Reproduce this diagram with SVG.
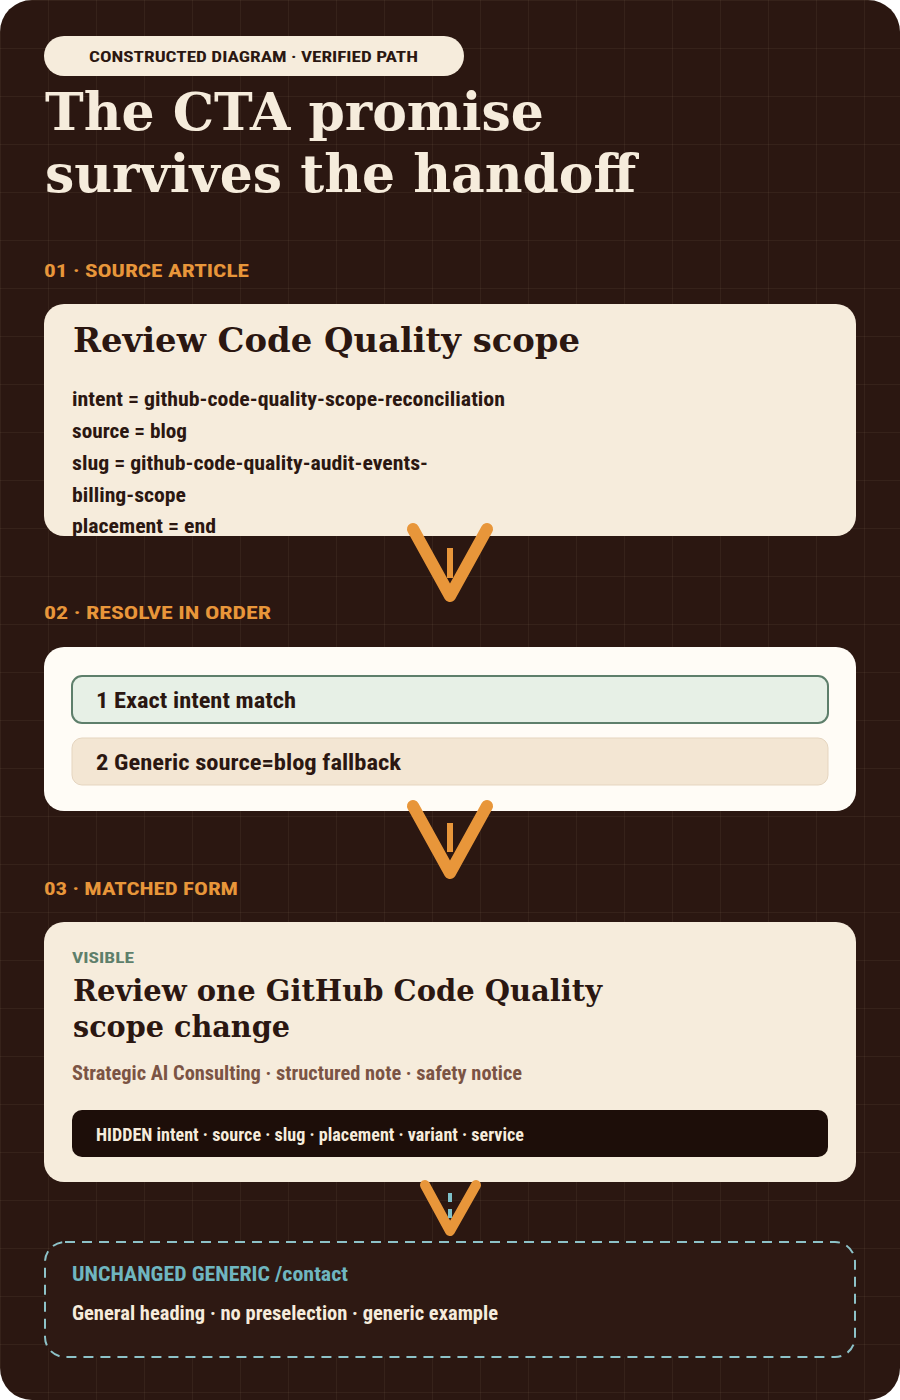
<svg xmlns="http://www.w3.org/2000/svg" width="900" height="1400" viewBox="0 0 900 1400">
  <defs>
    <style>
      .serif { font-family: "DejaVu Serif", "Liberation Serif", serif; font-weight: bold; }
      .cond { font-family: "Liberation Sans Narrow", "Roboto Condensed", "Liberation Sans", "Noto Sans", sans-serif; font-weight: bold; }
      .dark { fill: #2b1711; }
      .cream { fill: #f6ecdc; }
      .orange { fill: #e8963a; }
      .section { font-size: 18px; }
      .line { font-size: 20px; }
      .arrow { fill: none; stroke: #e8963a; stroke-linecap: round; stroke-linejoin: round; }
    </style>
    <pattern id="grid" x="0" y="0" width="48" height="48" patternUnits="userSpaceOnUse">
      <rect x="0" y="0" width="48" height="1" fill="#ffe6c8" fill-opacity="0.05"/>
      <rect x="0" y="0" width="1" height="48" fill="#ffe6c8" fill-opacity="0.05"/>
    </pattern>
    <clipPath id="clip1">
      <rect x="44" y="304" width="812" height="232" rx="20"/>
    </clipPath>
  </defs>

  <rect x="0" y="0" width="900" height="1400" fill="#ffffff"/>
  <rect x="0" y="0" width="900" height="1400" rx="32" fill="#2b1711"/>
  <rect x="0" y="0" width="900" height="1400" rx="32" fill="url(#grid)"/>

  <g id="header">
    <rect x="44" y="36" width="420" height="40" rx="20" class="cream"/>
    <text x="89" y="62" class="cond dark" font-size="15" textLength="329" lengthAdjust="spacingAndGlyphs">CONSTRUCTED DIAGRAM · VERIFIED PATH</text>
    <text x="45" y="130" class="serif cream" font-size="52">The CTA promise</text>
    <text x="45" y="192" class="serif cream" font-size="52">survives the handoff</text>
  </g>

  <g id="section-labels">
    <text x="44" y="277" class="cond orange section" textLength="205" lengthAdjust="spacingAndGlyphs">01 · SOURCE ARTICLE</text>
    <text x="44" y="619" class="cond orange section" textLength="227" lengthAdjust="spacingAndGlyphs">02 · RESOLVE IN ORDER</text>
    <text x="44" y="895" class="cond orange section" textLength="194" lengthAdjust="spacingAndGlyphs">03 · MATCHED FORM</text>
  </g>

  <g id="source-article">
    <rect x="44" y="304" width="812" height="232" rx="20" class="cream"/>
    <g clip-path="url(#clip1)">
      <text x="73" y="352" class="serif dark" font-size="33.5" textLength="507" lengthAdjust="spacingAndGlyphs">Review Code Quality scope</text>
      <text x="72" y="406" class="cond dark line" textLength="433" lengthAdjust="spacingAndGlyphs">intent = github-code-quality-scope-reconciliation</text>
      <text x="72" y="438" class="cond dark line" textLength="115" lengthAdjust="spacingAndGlyphs">source = blog</text>
      <text x="72" y="470" class="cond dark line" textLength="356" lengthAdjust="spacingAndGlyphs">slug = github-code-quality-audit-events-</text>
      <text x="72" y="502" class="cond dark line" textLength="114" lengthAdjust="spacingAndGlyphs">billing-scope</text>
      <text x="72" y="533" class="cond dark line" textLength="144" lengthAdjust="spacingAndGlyphs">placement = end</text>
    </g>
  </g>

  <g id="resolve-order">
    <rect x="44" y="647" width="812" height="164" rx="20" fill="#fffcf6"/>
    <g id="step-1">
      <rect x="72" y="676" width="756" height="47" rx="10" fill="#e7f0e6" stroke="#5e7f6b" stroke-width="2"/>
      <text x="96" y="708" class="cond dark" font-size="22" textLength="200" lengthAdjust="spacingAndGlyphs">1 Exact intent match</text>
    </g>
    <g id="step-2">
      <rect x="72" y="738" width="756" height="47" rx="10" fill="#f3e6d3" stroke="#e5d5bf" stroke-width="1"/>
      <text x="96" y="770" class="cond dark" font-size="22" textLength="305" lengthAdjust="spacingAndGlyphs">2 Generic source=blog fallback</text>
    </g>
  </g>

  <g id="matched-form">
    <rect x="44" y="922" width="812" height="260" rx="20" class="cream"/>
    <text x="72" y="963" class="cond" font-size="15" fill="#5e7f6b" textLength="62" lengthAdjust="spacingAndGlyphs">VISIBLE</text>
    <text x="73" y="1001" class="serif dark" font-size="29" textLength="529" lengthAdjust="spacingAndGlyphs">Review one GitHub Code Quality</text>
    <text x="73" y="1037" class="serif dark" font-size="29" textLength="217" lengthAdjust="spacingAndGlyphs">scope change</text>
    <text x="72" y="1080" class="cond line" fill="#7b5444" textLength="450" lengthAdjust="spacingAndGlyphs">Strategic AI Consulting · structured note · safety notice</text>
    <g id="hidden-fields">
      <rect x="72" y="1110" width="756" height="47" rx="10" fill="#1d0e09"/>
      <text x="96" y="1141" class="cond cream" font-size="18" textLength="428" lengthAdjust="spacingAndGlyphs">HIDDEN intent · source · slug · placement · variant · service</text>
    </g>
  </g>

  <g id="generic-contact">
    <rect x="45" y="1242" width="810" height="115" rx="20" fill="#2e1913" stroke="#8dc2c8" stroke-width="2" stroke-dasharray="10 7"/>
    <text x="72" y="1281" class="cond" font-size="21" fill="#6fb6c0" textLength="276" lengthAdjust="spacingAndGlyphs">UNCHANGED GENERIC /contact</text>
    <text x="72" y="1320" class="cond cream" font-size="20" textLength="426" lengthAdjust="spacingAndGlyphs">General heading · no preselection · generic example</text>
  </g>

  <g id="connectors">
    <g id="arrow-1">
      <path d="M413,529 L450,596 L487,529" class="arrow" stroke-width="12"/>
      <line x1="450" y1="548" x2="450" y2="578" stroke="#e8963a" stroke-width="6"/>
    </g>
    <g id="arrow-2">
      <path d="M413,806 L450,873 L487,806" class="arrow" stroke-width="12"/>
      <line x1="450" y1="823" x2="450" y2="852" stroke="#e8963a" stroke-width="6"/>
    </g>
    <g id="arrow-3">
      <path d="M425,1185 L450,1231 L476,1185" class="arrow" stroke-width="10"/>
      <line x1="450" y1="1193" x2="450" y2="1218" stroke="#7ec0c8" stroke-width="4" stroke-dasharray="9 7"/>
    </g>
  </g>
</svg>
